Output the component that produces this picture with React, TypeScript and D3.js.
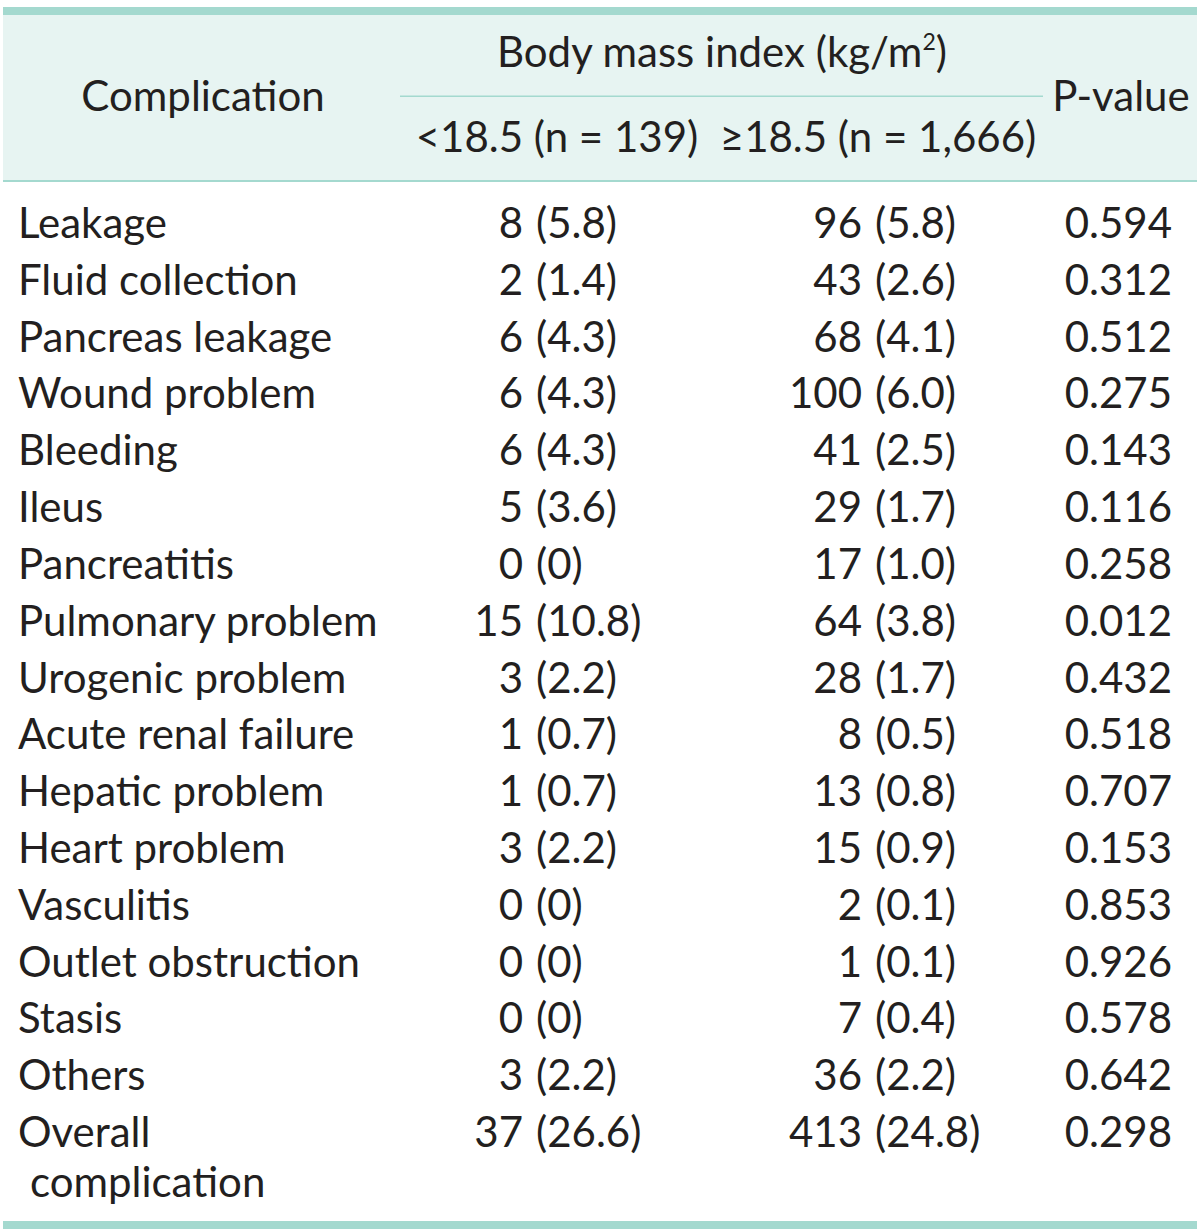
import React from "react";
import * as d3 from "d3";

const complications = [
  "Leakage",
  "Fluid collection",
  "Pancreas leakage",
  "Wound problem",
  "Bleeding",
  "Ileus",
  "Pancreatitis",
  "Pulmonary problem",
  "Urogenic problem",
  "Acute renal failure",
  "Hepatic problem",
  "Heart problem",
  "Vasculitis",
  "Outlet obstruction",
  "Stasis",
  "Others",
  "Overall complication",
];

const lowCounts = ["8", "2", "6", "6", "6", "5", "0", "15", "3", "1", "1", "3", "0", "0", "0", "3", "37"];
const lowPct = ["(5.8)", "(1.4)", "(4.3)", "(4.3)", "(4.3)", "(3.6)", "(0)", "(10.8)", "(2.2)", "(0.7)", "(0.7)", "(2.2)", "(0)", "(0)", "(0)", "(2.2)", "(26.6)"];
const highCounts = ["96", "43", "68", "100", "41", "29", "17", "64", "28", "8", "13", "15", "2", "1", "7", "36", "413"];
const highPct = ["(5.8)", "(2.6)", "(4.1)", "(6.0)", "(2.5)", "(1.7)", "(1.0)", "(3.8)", "(1.7)", "(0.5)", "(0.8)", "(0.9)", "(0.1)", "(0.1)", "(0.4)", "(2.2)", "(24.8)"];
const pValues = ["0.594", "0.312", "0.512", "0.275", "0.143", "0.116", "0.258", "0.012", "0.432", "0.518", "0.707", "0.153", "0.853", "0.926", "0.578", "0.642", "0.298"];

const headerGroup = "Body mass index (kg/m";
const headerLow = "<18.5 (n = 139)";
const headerHigh = "≥18.5 (n = 1,666)";

const W = 1200;
const H = 1232;
const TEXT = "#231f20";
const TEAL = "#a4d9cf";
const HEADER_BG = "#e7f4f2";
const FONT = "Lato, 'Open Sans', sans-serif";
const FS = 42;

export default function App() {
  const y = d3.scaleLinear().domain([0, complications.length - 1]).range([238, 1147]);
  return (
    <div style={{ position: "absolute", left: 0, top: 0 }}>
      <svg width={W} height={H} style={{ display: "block" }} fontFamily={FONT} fontSize={FS} fill={TEXT}>
        <rect x={0} y={0} width={W} height={H} fill="#ffffff" />
        <rect x={3} y={15} width={1194} height={166} fill={HEADER_BG} />
        <rect x={3} y={7} width={1194} height={8} fill={TEAL} />
        <rect x={3} y={180} width={1194} height={2} fill={TEAL} />
        <rect x={400} y={95.5} width={643} height={1.5} fill={TEAL} />
        <rect x={3} y={1221} width={1194} height={8} fill={TEAL} />

        <text x={203} y={111} textAnchor="middle">Complication</text>
        <text x={722} y={67} textAnchor="middle">
          {headerGroup}
          <tspan fontSize={FS * 0.55} dy={-17}>2</tspan>
          <tspan dy={17}>)</tspan>
        </text>
        <text x={557} y={152} textAnchor="middle">{headerLow}</text>
        <text x={878} y={152} textAnchor="middle">{headerHigh}</text>
        <text x={1121} y={111} textAnchor="middle">P-value</text>

        {complications.map((c, i) => {
          const yy = y(i);
          const isLast = i === complications.length - 1;
          return (
            <g key={c}>
              {isLast ? (
                <text x={18} y={yy}>
                  <tspan x={18}>Overall</tspan>
                  <tspan x={30} dy={50}>complication</tspan>
                </text>
              ) : (
                <text x={18} y={yy}>{c}</text>
              )}
              <text x={523} y={yy} textAnchor="end">{lowCounts[i]}</text>
              <text x={536} y={yy}>{lowPct[i]}</text>
              <text x={862} y={yy} textAnchor="end">{highCounts[i]}</text>
              <text x={875} y={yy}>{highPct[i]}</text>
              <text x={1172} y={yy} textAnchor="end">{pValues[i]}</text>
            </g>
          );
        })}
      </svg>
    </div>
  );
}
